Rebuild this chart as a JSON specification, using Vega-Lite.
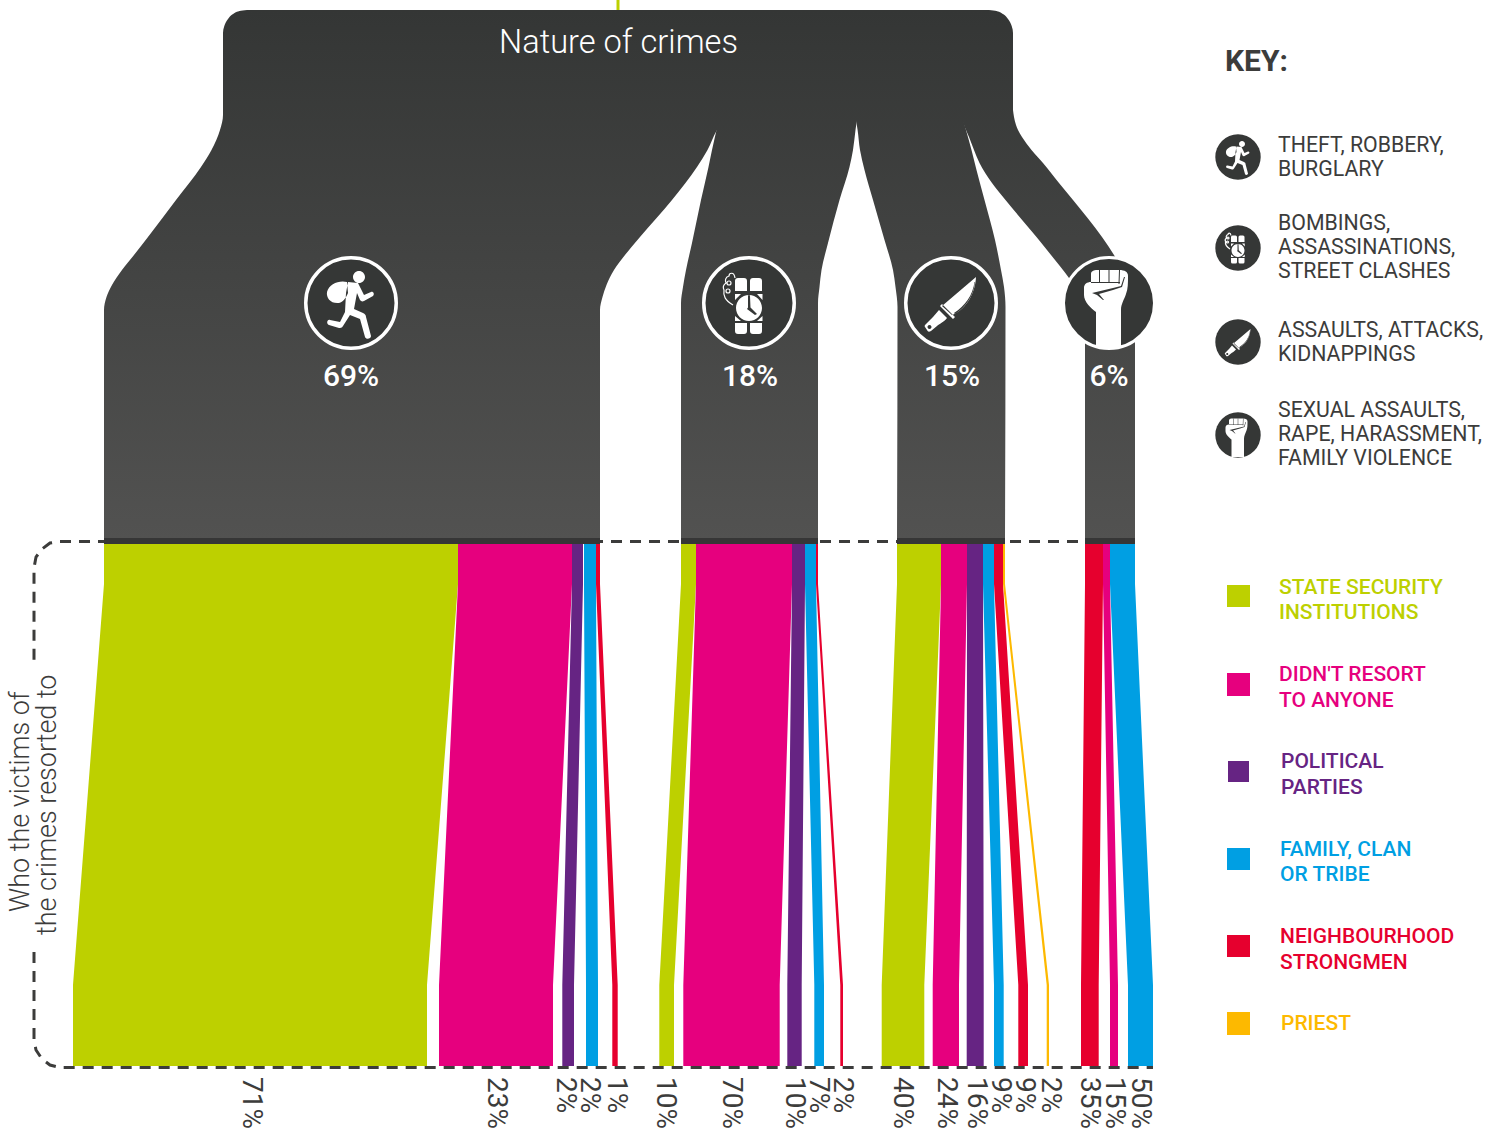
{
"$schema":"https://vega.github.io/schema/vega-lite/v6.json",
"width":1486,"height":1128,"padding":0,"autosize":{"type":"none"},"background":"white",
"config":{"view":{"stroke":null},"text":{"font":"Roboto"}},
"datasets":{
"dark":[
{"s":"trunk","y":10,"a":247,"b":989},{"s":"trunk","y":11,"a":239.5,"b":996.5},{"s":"trunk","y":14,"a":233,"b":1003},{"s":"trunk","y":19,"a":228,"b":1008},{"s":"trunk","y":26,"a":224.3,"b":1011.7},{"s":"trunk","y":33,"a":223,"b":1013},{"s":"trunk","y":117,"a":223,"b":1013},{"s":"trunk","y":118,"a":400,"b":420},{"s":"trunk","y":540,"a":400,"b":420},
{"s":"l1","y":10,"a":300,"b":600},{"s":"l1","y":110,"a":223,"b":730},{"s":"l1","y":115,"a":223,"b":727.5},{"s":"l1","y":130,"a":220,"b":717},{"s":"l1","y":150,"a":211.5,"b":707.5},{"s":"l1","y":167,"a":201,"b":697},{"s":"l1","y":200,"a":176,"b":672},{"s":"l1","y":237,"a":148,"b":640},{"s":"l1","y":255,"a":134,"b":625},{"s":"l1","y":270,"a":122,"b":614},{"s":"l1","y":285,"a":112,"b":606.5},{"s":"l1","y":297,"a":106.5,"b":602.5},{"s":"l1","y":310,"a":104,"b":600},{"s":"l1","y":540,"a":104,"b":600},
{"s":"l2","y":10,"a":720,"b":850},{"s":"l2","y":110,"a":721,"b":858.5},{"s":"l2","y":123,"a":718,"b":856.5},{"s":"l2","y":130,"a":716.5,"b":855.5},{"s":"l2","y":150,"a":712,"b":853},{"s":"l2","y":167,"a":708.5,"b":849.5},{"s":"l2","y":200,"a":701,"b":839.5},{"s":"l2","y":243,"a":692,"b":828},{"s":"l2","y":270,"a":686,"b":821.5},{"s":"l2","y":287,"a":683,"b":819.5},{"s":"l2","y":303,"a":681,"b":818},{"s":"l2","y":540,"a":681,"b":818},
{"s":"l3","y":10,"a":860,"b":950},{"s":"l3","y":110,"a":854.5,"b":961},{"s":"l3","y":123,"a":856.5,"b":964},{"s":"l3","y":130,"a":857.6,"b":966},{"s":"l3","y":150,"a":860,"b":971.5},{"s":"l3","y":170,"a":864.5,"b":976.5},{"s":"l3","y":200,"a":873,"b":984.5},{"s":"l3","y":240,"a":884.5,"b":995},{"s":"l3","y":270,"a":893,"b":1001},{"s":"l3","y":287,"a":895.5,"b":1004},{"s":"l3","y":307,"a":897.5,"b":1005.5},{"s":"l3","y":540,"a":897,"b":1005},
{"s":"l4","y":10,"a":950,"b":985},{"s":"l4","y":110,"a":958,"b":1013},{"s":"l4","y":117,"a":961,"b":1014},{"s":"l4","y":125,"a":964,"b":1016},{"s":"l4","y":130,"a":966,"b":1018},{"s":"l4","y":137,"a":969,"b":1022},{"s":"l4","y":150,"a":974,"b":1031.5},{"s":"l4","y":163,"a":979.5,"b":1043},{"s":"l4","y":183,"a":992,"b":1059},{"s":"l4","y":200,"a":1005.5,"b":1073},{"s":"l4","y":237,"a":1036.5,"b":1102},{"s":"l4","y":255,"a":1051,"b":1114},{"s":"l4","y":278,"a":1069,"b":1126},{"s":"l4","y":300,"a":1083,"b":1133},{"s":"l4","y":310,"a":1085,"b":1135},{"s":"l4","y":540,"a":1085,"b":1135}
],
"bands":[{"a":104,"b":600,"t":538,"u":544},{"a":681,"b":818,"t":538,"u":544},{"a":897,"b":1005,"t":538,"u":544},{"a":1085,"b":1135,"t":538,"u":544}],
"flows":[
{"s":"1a","c":"STATE","y":544,"a":104,"b":458},{"s":"1a","c":"STATE","y":584,"a":104,"b":458},{"s":"1a","c":"STATE","y":985,"a":73,"b":427},{"s":"1a","c":"STATE","y":1066,"a":73,"b":427},
{"s":"1b","c":"NONE","y":544,"a":458,"b":572},{"s":"1b","c":"NONE","y":584,"a":458,"b":572},{"s":"1b","c":"NONE","y":985,"a":439,"b":553},{"s":"1b","c":"NONE","y":1066,"a":439,"b":553},
{"s":"1c","c":"PARTY","y":544,"a":572,"b":583},{"s":"1c","c":"PARTY","y":584,"a":572,"b":583},{"s":"1c","c":"PARTY","y":985,"a":562.3,"b":574},{"s":"1c","c":"PARTY","y":1066,"a":562.3,"b":574},
{"s":"1d","c":"FAMILY","y":544,"a":584,"b":596},{"s":"1d","c":"FAMILY","y":584,"a":584,"b":596},{"s":"1d","c":"FAMILY","y":985,"a":586,"b":598},{"s":"1d","c":"FAMILY","y":1066,"a":586,"b":598},
{"s":"1e","c":"STRONG","y":544,"a":596,"b":600},{"s":"1e","c":"STRONG","y":584,"a":596,"b":600},{"s":"1e","c":"STRONG","y":985,"a":612.3,"b":617.7},{"s":"1e","c":"STRONG","y":1066,"a":612.3,"b":617.7},
{"s":"2a","c":"STATE","y":544,"a":681,"b":696},{"s":"2a","c":"STATE","y":584,"a":681,"b":696},{"s":"2a","c":"STATE","y":985,"a":659.3,"b":674},{"s":"2a","c":"STATE","y":1066,"a":659.3,"b":674},
{"s":"2b","c":"NONE","y":544,"a":696,"b":792},{"s":"2b","c":"NONE","y":584,"a":696,"b":792},{"s":"2b","c":"NONE","y":985,"a":683.3,"b":779.7},{"s":"2b","c":"NONE","y":1066,"a":683.3,"b":779.7},
{"s":"2c","c":"PARTY","y":544,"a":792,"b":805},{"s":"2c","c":"PARTY","y":584,"a":792,"b":805},{"s":"2c","c":"PARTY","y":985,"a":787.3,"b":801.7},{"s":"2c","c":"PARTY","y":1066,"a":787.3,"b":801.7},
{"s":"2d","c":"FAMILY","y":544,"a":805,"b":816},{"s":"2d","c":"FAMILY","y":584,"a":805,"b":816},{"s":"2d","c":"FAMILY","y":985,"a":814.3,"b":824},{"s":"2d","c":"FAMILY","y":1066,"a":814.3,"b":824},
{"s":"2e","c":"STRONG","y":544,"a":816,"b":818},{"s":"2e","c":"STRONG","y":584,"a":816,"b":818},{"s":"2e","c":"STRONG","y":985,"a":840.3,"b":843},{"s":"2e","c":"STRONG","y":1066,"a":840.3,"b":843},
{"s":"3a","c":"STATE","y":544,"a":897,"b":941},{"s":"3a","c":"STATE","y":584,"a":897,"b":941},{"s":"3a","c":"STATE","y":985,"a":881.7,"b":924.3},{"s":"3a","c":"STATE","y":1066,"a":881.7,"b":924.3},
{"s":"3b","c":"NONE","y":544,"a":941,"b":967},{"s":"3b","c":"NONE","y":584,"a":941,"b":967},{"s":"3b","c":"NONE","y":985,"a":932.7,"b":959},{"s":"3b","c":"NONE","y":1066,"a":932.7,"b":959},
{"s":"3c","c":"PARTY","y":544,"a":967,"b":983},{"s":"3c","c":"PARTY","y":584,"a":967,"b":983},{"s":"3c","c":"PARTY","y":985,"a":966.7,"b":983.7},{"s":"3c","c":"PARTY","y":1066,"a":966.7,"b":983.7},
{"s":"3d","c":"FAMILY","y":544,"a":983,"b":994},{"s":"3d","c":"FAMILY","y":584,"a":983,"b":994},{"s":"3d","c":"FAMILY","y":985,"a":994,"b":1003.7},{"s":"3d","c":"FAMILY","y":1066,"a":994,"b":1003.7},
{"s":"3e","c":"STRONG","y":544,"a":994,"b":1003},{"s":"3e","c":"STRONG","y":584,"a":994,"b":1003},{"s":"3e","c":"STRONG","y":985,"a":1018.3,"b":1028},{"s":"3e","c":"STRONG","y":1066,"a":1018.3,"b":1028},
{"s":"3f","c":"PRIEST","y":544,"a":1003,"b":1005},{"s":"3f","c":"PRIEST","y":584,"a":1003,"b":1005},{"s":"3f","c":"PRIEST","y":985,"a":1046.7,"b":1049},{"s":"3f","c":"PRIEST","y":1066,"a":1046.7,"b":1049},
{"s":"4a","c":"STRONG","y":544,"a":1085,"b":1103},{"s":"4a","c":"STRONG","y":584,"a":1085,"b":1103},{"s":"4a","c":"STRONG","y":985,"a":1081,"b":1098.7},{"s":"4a","c":"STRONG","y":1066,"a":1081,"b":1098.7},
{"s":"4b","c":"NONE","y":544,"a":1103,"b":1110},{"s":"4b","c":"NONE","y":584,"a":1103,"b":1110},{"s":"4b","c":"NONE","y":985,"a":1110,"b":1118},{"s":"4b","c":"NONE","y":1066,"a":1110,"b":1118},
{"s":"4c","c":"FAMILY","y":544,"a":1110,"b":1135},{"s":"4c","c":"FAMILY","y":584,"a":1110,"b":1135},{"s":"4c","c":"FAMILY","y":985,"a":1128,"b":1153},{"s":"4c","c":"FAMILY","y":1066,"a":1128,"b":1153}
],
"dashes":[
{"s":"top","i":1,"x":1135,"y":541.5},{"s":"top","i":2,"x":60,"y":541.5},{"s":"top","i":3,"x":50,"y":543},{"s":"top","i":4,"x":42,"y":549},{"s":"top","i":5,"x":36,"y":557},{"s":"top","i":6,"x":34,"y":568},{"s":"top","i":7,"x":34,"y":664},
{"s":"bot","i":1,"x":34,"y":952},{"s":"bot","i":2,"x":34,"y":1040},{"s":"bot","i":3,"x":36,"y":1050},{"s":"bot","i":4,"x":42,"y":1059},{"s":"bot","i":5,"x":50,"y":1065},{"s":"bot","i":6,"x":60,"y":1067.5},{"s":"bot","i":7,"x":1153,"y":1067.5}
],
"icons":[
{"icon":"runner","kind":"main","x":351,"y":303},{"icon":"bomb","kind":"main","x":749,"y":303},{"icon":"knife","kind":"main","x":951,"y":303},{"icon":"fist","kind":"main","x":1109,"y":303},
{"icon":"runner","kind":"key","x":1238,"y":157},{"icon":"bomb","kind":"key","x":1238,"y":248},{"icon":"knife","kind":"key","x":1238,"y":342},{"icon":"fist","kind":"key","x":1238,"y":435}
],
"pct":[
{"t":"71%","x":251,"y":1077},{"t":"23%","x":496,"y":1077},{"t":"2%","x":565,"y":1077},{"t":"2%","x":589,"y":1077},{"t":"1%","x":616,"y":1077},{"t":"10%","x":665,"y":1077},{"t":"70%","x":731,"y":1077},{"t":"10%","x":794,"y":1077},{"t":"7%","x":818,"y":1077},{"t":"2%","x":842,"y":1077},{"t":"40%","x":902,"y":1077},{"t":"24%","x":946,"y":1077},{"t":"16%","x":976,"y":1077},{"t":"9%","x":1000,"y":1077},{"t":"9%","x":1024,"y":1077},{"t":"2%","x":1050,"y":1077},{"t":"35%","x":1089,"y":1077},{"t":"15%","x":1114,"y":1077},{"t":"50%","x":1140,"y":1077}
],
"share":[{"t":"69%","x":351,"y":377},{"t":"18%","x":750,"y":377},{"t":"15%","x":952,"y":377},{"t":"6%","x":1109,"y":377}],
"side":[{"t":"Who the victims of","x":21,"y":912},{"t":"the crimes resorted to","x":48,"y":935}],
"key":[
{"t":"THEFT, ROBBERY,","x":1278,"y":146},{"t":"BURGLARY","x":1278,"y":170},
{"t":"BOMBINGS,","x":1278,"y":224},{"t":"ASSASSINATIONS,","x":1278,"y":248},{"t":"STREET CLASHES","x":1278,"y":272},
{"t":"ASSAULTS, ATTACKS,","x":1278,"y":331},{"t":"KIDNAPPINGS","x":1278,"y":355},
{"t":"SEXUAL ASSAULTS,","x":1278,"y":411},{"t":"RAPE, HARASSMENT,","x":1278,"y":435},{"t":"FAMILY VIOLENCE","x":1278,"y":459}
],
"legendText":[
{"c":"STATE","t":"STATE SECURITY","x":1279,"y":588},{"c":"STATE","t":"INSTITUTIONS","x":1279,"y":613},
{"c":"NONE","t":"DIDN'T RESORT","x":1279,"y":675},{"c":"NONE","t":"TO ANYONE","x":1279,"y":701},
{"c":"PARTY","t":"POLITICAL","x":1281,"y":762},{"c":"PARTY","t":"PARTIES","x":1281,"y":788},
{"c":"FAMILY","t":"FAMILY, CLAN","x":1280,"y":850},{"c":"FAMILY","t":"OR TRIBE","x":1280,"y":875},
{"c":"STRONG","t":"NEIGHBOURHOOD","x":1280,"y":937},{"c":"STRONG","t":"STRONGMEN","x":1280,"y":963},
{"c":"PRIEST","t":"PRIEST","x":1281,"y":1024}
],
"legendSwatch":[
{"c":"STATE","a":1227,"b":1250,"t":585,"u":607},{"c":"NONE","a":1227,"b":1250,"t":673,"u":696},{"c":"PARTY","a":1228,"b":1249,"t":761,"u":782},{"c":"FAMILY","a":1227,"b":1250,"t":848,"u":870},{"c":"STRONG","a":1227,"b":1250,"t":935,"u":957},{"c":"PRIEST","a":1227,"b":1250,"t":1012,"u":1035}
]
},
"layer":[
{"data":{"values":[{"x":618,"t":0,"u":10}]},"mark":{"type":"rule","color":"#bdd000","strokeWidth":3},"encoding":{"x":{"field":"x","type":"quantitative","scale":{"domain":[0,1486],"nice":false,"zero":false},"axis":null},"y":{"field":"t","type":"quantitative","scale":{"domain":[0,1128],"reverse":true,"nice":false,"zero":false},"axis":null},"y2":{"field":"u"}}},
{"data":{"name":"dashes"},"transform":[{"filter":"datum.s=='top'"}],"mark":{"type":"line","color":"#3c3c3b","strokeWidth":3,"strokeDash":[11,8]},"encoding":{"x":{"field":"x","type":"quantitative","axis":null},"y":{"field":"y","type":"quantitative","axis":null},"order":{"field":"i"}}},
{"data":{"name":"dark"},"mark":{"type":"area","orient":"horizontal","interpolate":"monotone","color":{"gradient":"linear","x1":0,"y1":0,"x2":0,"y2":1,"stops":[{"offset":0,"color":"#343635"},{"offset":1,"color":"#525251"}]}},"encoding":{"y":{"field":"y","type":"quantitative","axis":null},"x":{"field":"a","type":"quantitative","axis":null},"x2":{"field":"b"},"detail":{"field":"s"}}},
{"data":{"name":"bands"},"mark":{"type":"rect","color":"#363636"},"encoding":{"x":{"field":"a","type":"quantitative","axis":null},"x2":{"field":"b"},"y":{"field":"t","type":"quantitative","axis":null},"y2":{"field":"u"}}},
{"data":{"name":"flows"},"mark":{"type":"area","orient":"horizontal","interpolate":"linear","opacity":1},"encoding":{"y":{"field":"y","type":"quantitative","axis":null},"x":{"field":"a","type":"quantitative","axis":null},"x2":{"field":"b"},"detail":{"field":"s"},"color":{"field":"c","type":"nominal","legend":null,"scale":{"domain":["STATE","NONE","PARTY","FAMILY","STRONG","PRIEST"],"range":["#bdd000","#e6007e","#662483","#009fe3","#e6002e","#fdb900"]}}}},
{"data":{"name":"legendSwatch"},"mark":{"type":"rect"},"encoding":{"x":{"field":"a","type":"quantitative","axis":null},"x2":{"field":"b"},"y":{"field":"t","type":"quantitative","axis":null},"y2":{"field":"u"},"color":{"field":"c","type":"nominal","legend":null}}},
{"data":{"name":"dashes"},"mark":{"type":"line","color":"#3c3c3b","strokeWidth":3,"strokeDash":[11,8]},"transform":[{"filter":"datum.s=='bot'"}],"encoding":{"x":{"field":"x","type":"quantitative","axis":null},"y":{"field":"y","type":"quantitative","axis":null},"order":{"field":"i"}}},
{"data":{"name":"icons"},"transform":[{"filter":"datum.kind=='main' && datum.icon!='fist'"}],"mark":{"type":"point","shape":"circle","filled":true,"fill":"#353736","stroke":"white","strokeWidth":3.5,"opacity":1,"strokeOpacity":1,"fillOpacity":1,"size":8190},"encoding":{"x":{"field":"x","type":"quantitative","axis":null},"y":{"field":"y","type":"quantitative","axis":null}}},
{"data":{"name":"icons"},"transform":[{"filter":"datum.kind=='main' && datum.icon=='fist'"}],"mark":{"type":"point","shape":"circle","filled":true,"fill":"#353736","stroke":"white","strokeWidth":3,"opacity":1,"strokeOpacity":1,"fillOpacity":1,"size":8281},"encoding":{"x":{"field":"x","type":"quantitative","axis":null},"y":{"field":"y","type":"quantitative","axis":null}}},
{"data":{"name":"icons"},"transform":[{"filter":"datum.kind=='key'"}],"mark":{"type":"point","shape":"circle","filled":true,"fill":"#353736","opacity":1,"size":2061},"encoding":{"x":{"field":"x","type":"quantitative","axis":null},"y":{"field":"y","type":"quantitative","axis":null}}},
{"data":{"name":"icons"},"transform":[{"filter":"datum.icon=='runner'"}],"mark":{"type":"point","filled":true,"fill":"white","opacity":1,"shape":"M2 -26 A6 6 0 1 1 14 -26 A6 6 0 1 1 2 -26 Z M-4 -21 C-12 -23 -22 -19 -24 -11 C-25 -5 -20 1 -12 0 C-8 -1 -5 -5 -3 -10 Z M-3 -21 L7 -20 L13 -8 L20 -11 C22 -12 24 -9 22 -7 L13 -2 C11 -1 10 -2 9 -3 L6 -10 L3 6 L12 10 C14 11 15 12 15 14 L20 33 C20 36 15 37 14 34 L9 16 L-1 12 L-8 23 C-9 25 -11 25 -12 25 L-22 22 C-25 21 -24 16 -21 17 L-11 19 L-6 9 L-5 -10 Z"},"encoding":{"x":{"field":"x","type":"quantitative","axis":null},"y":{"field":"y","type":"quantitative","axis":null},"size":{"field":"kind","type":"nominal","legend":null,"scale":{"domain":["main","key"],"range":[4,1]}}}},
{"data":{"name":"icons"},"transform":[{"filter":"datum.icon=='bomb'"}],"mark":{"type":"point","filled":true,"fill":"white","opacity":1,"shape":"M-14 -22 Q-14 -25 -11 -25 L-5 -25 Q-2 -25 -2 -22 L-2 -12 L-14 -12 Z M1 -22 Q1 -25 4 -25 L10 -25 Q13 -25 13 -22 L13 -12 L1 -12 Z M-14 20 L-2 20 L-2 28 Q-2 31 -5 31 L-11 31 Q-14 31 -14 28 Z M1 20 L13 20 L13 28 Q13 31 10 31 L4 31 Q1 31 1 28 Z M-13 5 A13 13 0 1 1 13 5 A13 13 0 1 1 -13 5 Z M-14 -9 L-8 -9 L-14 -3 Z M13.5 -9 L8 -9 L13.5 -3 Z M-14 18 L-14 13 L-8 18 Z M13.5 18 L13.5 13 L8 18 Z"},"encoding":{"x":{"field":"x","type":"quantitative","axis":null},"y":{"field":"y","type":"quantitative","axis":null},"size":{"field":"kind","type":"nominal","legend":null}}},
{"data":{"name":"icons"},"transform":[{"filter":"datum.icon=='bomb'"}],"mark":{"type":"point","filled":true,"fill":"#353736","opacity":1,"shape":"M-1 -7 L0 -9 L1 -7 L1.5 5 L-1 5 Z M0 3 L8 11 L6 12 L-2 6 Z"},"encoding":{"x":{"field":"x","type":"quantitative","axis":null},"y":{"field":"y","type":"quantitative","axis":null},"size":{"field":"kind","type":"nominal","legend":null}}},
{"data":{"name":"icons"},"transform":[{"filter":"datum.icon=='bomb'"}],"mark":{"type":"point","filled":false,"stroke":"white","strokeWidth":1.2,"opacity":1,"shape":"M-14 -25 C-15 -32 -20 -30 -20 -27 C-24 -26 -24 -22 -23 -20 C-26 -18 -26 -15 -25 -13 C-26 -7 -24 -3 -16 2 M-22 -20 A2 2 0 1 1 -18 -20 A2 2 0 1 1 -22 -20 Z M-23 -12 A2 2 0 1 1 -19 -12 A2 2 0 1 1 -23 -12 Z"},"encoding":{"x":{"field":"x","type":"quantitative","axis":null},"y":{"field":"y","type":"quantitative","axis":null},"size":{"field":"kind","type":"nominal","legend":null}}},
{"data":{"name":"icons"},"transform":[{"filter":"datum.icon=='knife'"}],"mark":{"type":"point","filled":true,"fill":"white","opacity":1,"shape":"M25 -26 L-9 3 L1 12 C12 8 24 -6 25 -26 Z M-11 3 L-9 1 L4 14 L2 16 Z M-12 7 L-4 15 C-7 19 -12 21 -14 23 L-20 28 C-22 29 -23 29 -24 27 L-26 24 C-27 23 -26 22 -25 21 L-18 14 Z"},"encoding":{"x":{"field":"x","type":"quantitative","axis":null},"y":{"field":"y","type":"quantitative","axis":null},"size":{"field":"kind","type":"nominal","legend":null}}},
{"data":{"name":"icons"},"transform":[{"filter":"datum.icon=='knife'"}],"mark":{"type":"point","filled":true,"fill":"#353736","opacity":1,"shape":"M23.5 -21 C22 -8 14 3 3 10 L4 11 C15 4 23 -8 24 -21 Z M-23.5 24 A2 2 0 1 1 -19.5 24 A2 2 0 1 1 -23.5 24 Z"},"encoding":{"x":{"field":"x","type":"quantitative","axis":null},"y":{"field":"y","type":"quantitative","axis":null},"size":{"field":"kind","type":"nominal","legend":null}}},
{"data":{"name":"icons"},"transform":[{"filter":"datum.icon=='fist'"}],"mark":{"type":"point","filled":true,"fill":"white","opacity":1,"shape":"M-13 44 L-13 9 C-18 5 -25 -1 -25 -8 L-25 -15 C-25 -19 -22 -21 -18 -21 L-18 -29 C-18 -32 -15 -33 -12 -33 L10 -33 C16 -33 19 -31 19 -27 C19 -20 19 -14 17 -9 C15 -3 12 1 12 7 L12 44 Z"},"encoding":{"x":{"field":"x","type":"quantitative","axis":null},"y":{"field":"y","type":"quantitative","axis":null},"size":{"field":"kind","type":"nominal","legend":null}}},
{"data":{"name":"icons"},"transform":[{"filter":"datum.icon=='fist'"}],"mark":{"type":"point","filled":true,"fill":"#353736","opacity":1,"shape":"M-10 -33 L-9 -33 L-9 -20 L-10 -20 Z M-0.5 -33 L0.5 -33 L0.5 -20 L-0.5 -20 Z M10 -33 L11 -33 L10.5 -19 L9.5 -19 Z M-18 -21 L11 -21 L11 -20 L-18 -20 Z M-17 -10 L4 -15 L12 -17 L15 -26 L16 -26 L13 -16 L4 -13 L-10 -9 L-5 -3 L-6 -3 L-12 -8 Z"},"encoding":{"x":{"field":"x","type":"quantitative","axis":null},"y":{"field":"y","type":"quantitative","axis":null},"size":{"field":"kind","type":"nominal","legend":null}}},
{"data":{"values":[{"t":"Nature of crimes","x":618.5,"y":43}]},"mark":{"type":"text","font":"Roboto","fontWeight":300,"fontSize":32.6,"color":"white","align":"center","baseline":"middle"},"encoding":{"x":{"field":"x","type":"quantitative","axis":null},"y":{"field":"y","type":"quantitative","axis":null},"text":{"field":"t"}}},
{"data":{"name":"share"},"mark":{"type":"text","font":"Roboto","fontWeight":500,"fontSize":30,"color":"white","align":"center","baseline":"middle"},"encoding":{"x":{"field":"x","type":"quantitative","axis":null},"y":{"field":"y","type":"quantitative","axis":null},"text":{"field":"t"}}},
{"data":{"name":"pct"},"mark":{"type":"text","font":"Roboto","fontSize":28,"color":"#3c3c3b","angle":90,"align":"left","baseline":"middle"},"encoding":{"x":{"field":"x","type":"quantitative","axis":null},"y":{"field":"y","type":"quantitative","axis":null},"text":{"field":"t"}}},
{"data":{"name":"side"},"mark":{"type":"text","font":"Roboto","fontWeight":300,"fontSize":27,"color":"#3c3c3b","angle":270,"align":"left","baseline":"middle"},"encoding":{"x":{"field":"x","type":"quantitative","axis":null},"y":{"field":"y","type":"quantitative","axis":null},"text":{"field":"t"}}},
{"data":{"values":[{"t":"KEY:","x":1225,"y":62}]},"mark":{"type":"text","font":"Roboto","fontWeight":700,"fontSize":30,"color":"#3c3c3b","align":"left","baseline":"middle"},"encoding":{"x":{"field":"x","type":"quantitative","axis":null},"y":{"field":"y","type":"quantitative","axis":null},"text":{"field":"t"}}},
{"data":{"name":"key"},"mark":{"type":"text","font":"Roboto","fontSize":21.3,"color":"#3c3c3b","align":"left","baseline":"middle"},"encoding":{"x":{"field":"x","type":"quantitative","axis":null},"y":{"field":"y","type":"quantitative","axis":null},"text":{"field":"t"}}},
{"data":{"name":"legendText"},"mark":{"type":"text","font":"Roboto","fontWeight":500,"fontSize":21,"align":"left","baseline":"middle"},"encoding":{"x":{"field":"x","type":"quantitative","axis":null},"y":{"field":"y","type":"quantitative","axis":null},"text":{"field":"t"},"color":{"field":"c","type":"nominal","legend":null}}}
]
}
